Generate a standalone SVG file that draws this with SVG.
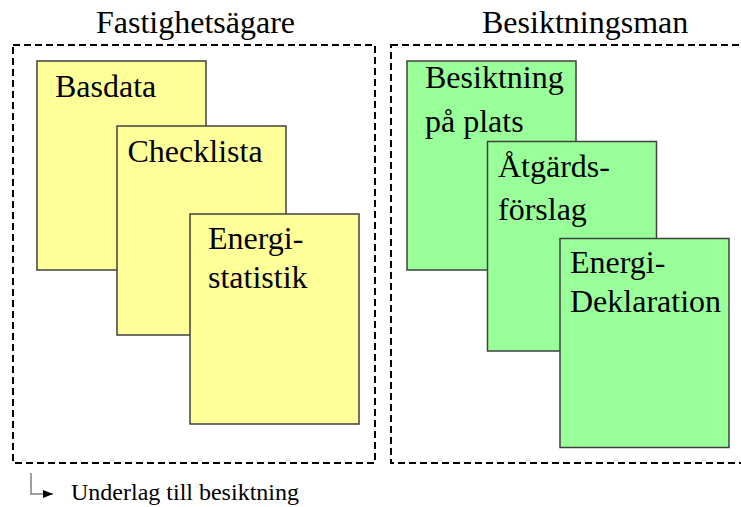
<svg xmlns="http://www.w3.org/2000/svg" width="741" height="507" viewBox="0 0 741 507">
<defs>
<style>
text { font-family: "Liberation Serif", "Times New Roman", serif; fill: #000; }
.t32 { font-size: 32px; }
.t24 { font-size: 24px; }
.group { fill: none; stroke: #000; stroke-width: 2; stroke-dasharray: 7 4; }
.yel { fill: #FFFF99; stroke: #404040; stroke-width: 1.5; }
.grn { fill: #99FF99; stroke: #404040; stroke-width: 1.5; }
.leg { fill: none; stroke: #808080; stroke-width: 1.5; }
</style>
<marker id="ah" viewBox="0 0 10 8" refX="10" refY="4" markerWidth="10" markerHeight="8" markerUnits="userSpaceOnUse" orient="auto">
<path d="M0,0 L10,4 L0,8 Z" fill="#000"/>
</marker>
</defs>
<rect width="741" height="507" fill="#fff"/>

<g id="fastighetsagare">
<rect class="group" x="13" y="45" width="362" height="418"/>
<text class="t32" x="96" y="33">Fastighetsägare</text>
</g>
<g id="besiktningsman">
<rect class="group" x="391" y="45" width="370" height="418"/>
<text class="t32" x="482" y="33">Besiktningsman</text>
</g>

<g id="basdata">
<rect class="yel" x="37" y="61" width="169" height="209"/>
<text class="t32" x="55" y="97">Basdata</text>
</g>
<g id="checklista">
<rect class="yel" x="117" y="126" width="169" height="209"/>
<text class="t32" x="127.5" y="161.5">Checklista</text>
</g>
<g id="energistatistik">
<rect class="yel" x="190" y="214" width="169" height="210"/>
<text class="t32" x="208" y="249">Energi-</text>
<text class="t32" x="208" y="287.5">statistik</text>
</g>

<g id="besiktning">
<rect class="grn" x="407" y="61" width="169" height="209"/>
<text class="t32" x="425" y="88">Besiktning</text>
<text class="t32" x="425" y="131.5">på plats</text>
</g>
<g id="atgardsforslag">
<rect class="grn" x="487.5" y="141.5" width="169" height="209.5"/>
<text class="t32" x="498" y="176.5">Åtgärds-</text>
<text class="t32" x="498" y="220">förslag</text>
</g>
<g id="energideklaration">
<rect class="grn" x="560" y="238.5" width="169" height="209"/>
<text class="t32" x="570" y="273.3">Energi-</text>
<text class="t32" x="570" y="312.3">Deklaration</text>
</g>

<g id="connectors">
<path class="leg" d="M31,473 V494 H53" marker-end="url(#ah)"/>
</g>
<g id="legend">
<text class="t24" x="71" y="500">Underlag till besiktning</text>
</g>
</svg>
